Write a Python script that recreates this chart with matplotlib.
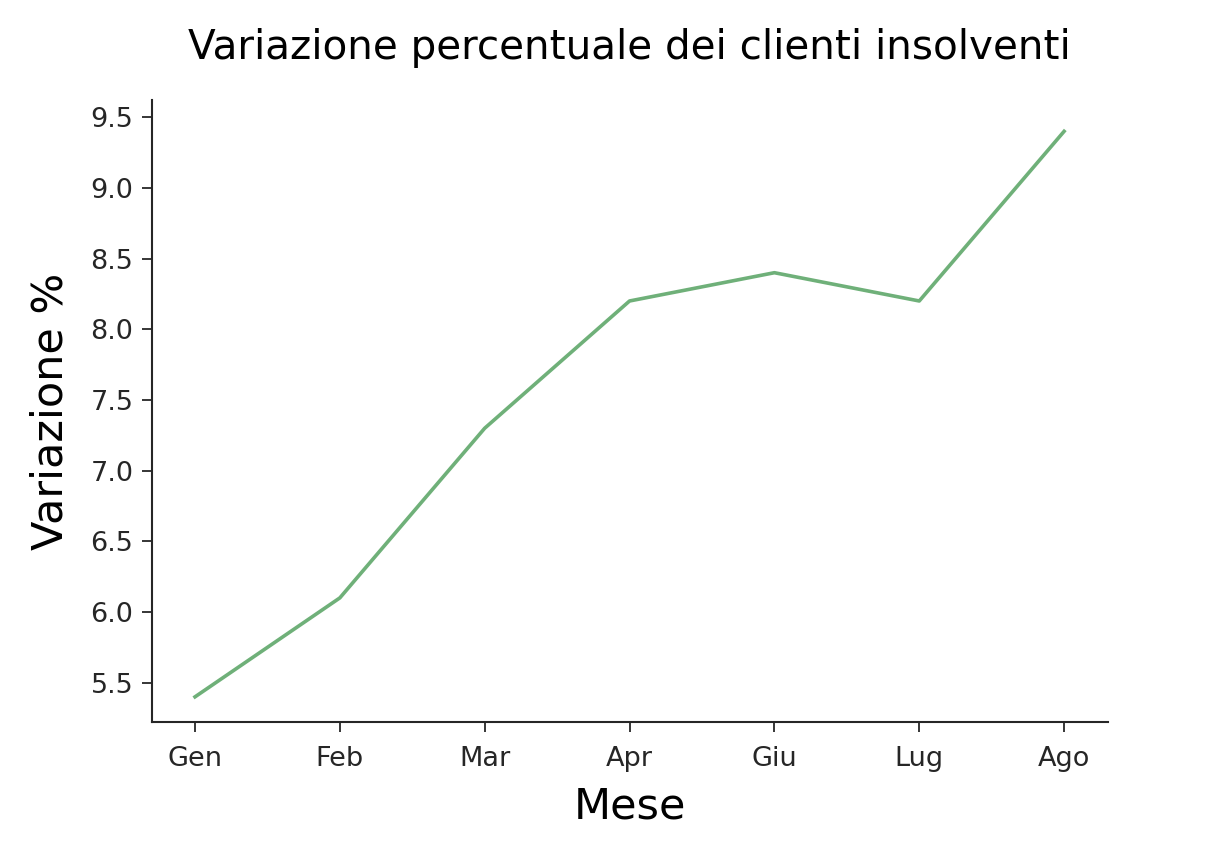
import matplotlib
matplotlib.use("Agg")
import matplotlib.pyplot as plt

mesi = ["Gen", "Feb", "Mar", "Apr", "Giu", "Lug", "Ago"]
variazione = [5.4, 6.1, 7.3, 8.2, 8.4, 8.2, 9.4]

fig = plt.figure(figsize=(12.32, 8.64), dpi=100)
ax = fig.add_axes([0.123, 0.164, 0.776, 0.72])

ax.plot(mesi, variazione, color="#5fa86a", alpha=0.9, linewidth=2.6)

ax.set_title("Variazione percentuale dei clienti insolventi", fontsize=29.2, pad=30)
ax.set_xlabel("Mese", fontsize=31, labelpad=10)
ax.set_ylabel("Variazione %", fontsize=31, labelpad=14)

ax.set_yticks([5.5, 6.0, 6.5, 7.0, 7.5, 8.0, 8.5, 9.0, 9.5])
ax.set_ylim(5.22, 9.62)
ax.set_xlim(-0.3, 6.3)
ax.tick_params(labelsize=19.5, colors="#262626", length=7, width=1.3, pad=6)
ax.tick_params(axis="x", pad=10)

for s in ["top", "right"]:
    ax.spines[s].set_visible(False)
for s in ["left", "bottom"]:
    ax.spines[s].set_linewidth(1.5)
    ax.spines[s].set_color("#262626")

fig.savefig("out.png", dpi=100)
